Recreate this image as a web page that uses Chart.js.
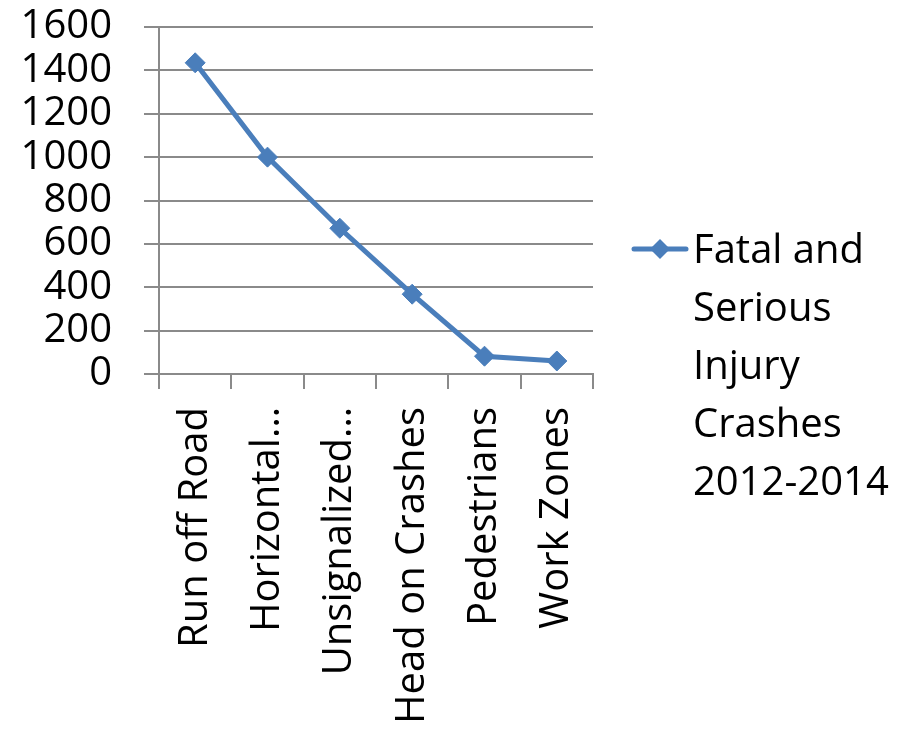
<!DOCTYPE html>
<html>
<head>
<meta charset="utf-8">
<script src="https://cdn.jsdelivr.net/npm/chart.js"></script>
<style>
    html, body { margin: 0; padding: 0; background: #fff; }
    #wrap { width: 917px; height: 730px; position: relative; }
</style>
</head>
<body>
<div id="wrap"><canvas id="crashChart"></canvas></div>
<script>
const categories = ['Run off Road', 'Horizontal…', 'Unsignalized…', 'Head on Crashes', 'Pedestrians', 'Work Zones'];
const crashes = [1435, 1000, 672, 368, 82, 60];
const seriesName = 'Fatal and Serious Injury Crashes 2012-2014';
const legendLines = ['Fatal and', 'Serious', 'Injury', 'Crashes', '2012-2014'];
const yMin = 0;
const yMax = 1600;
const yStep = 200;

const seriesColor = '#4a7ebb';
const gridColor = '#8a8a8a';
const fontFamily = '"Open Sans", sans-serif';

// legend drawn by hand so the text can wrap like the original
const sideLegend = {
    id: 'sideLegend',
    afterDraw(chart) {
        const ctx = chart.ctx;
        const area = chart.chartArea;
        const lineGap = 58;
        const blockTop = chart.height / 2 - (legendLines.length * lineGap) / 2;
        const markY = blockTop + 29;
        const markX = area.right + 67;

        ctx.save();
        ctx.strokeStyle = seriesColor;
        ctx.lineWidth = 5;
        ctx.lineCap = 'round';
        ctx.beginPath();
        ctx.moveTo(area.right + 41, markY);
        ctx.lineTo(area.right + 93, markY);
        ctx.stroke();

        ctx.fillStyle = seriesColor;
        ctx.beginPath();
        ctx.moveTo(markX, markY - 10);
        ctx.lineTo(markX + 10, markY);
        ctx.lineTo(markX, markY + 10);
        ctx.lineTo(markX - 10, markY);
        ctx.closePath();
        ctx.fill();

        ctx.fillStyle = '#000';
        ctx.font = '40px ' + fontFamily;
        ctx.textAlign = 'left';
        ctx.textBaseline = 'alphabetic';
        for (let i = 0; i < legendLines.length; i++) {
            ctx.fillText(legendLines[i], area.right + 100, blockTop + 43 + i * lineGap);
        }
        ctx.restore();
    }
};

const config = {
    type: 'line',
    data: {
        labels: categories,
        datasets: [{
            label: seriesName,
            data: crashes,
            borderColor: seriesColor,
            backgroundColor: seriesColor,
            borderWidth: 5,
            tension: 0,
            pointStyle: 'rectRot',
            pointRadius: 10,
            pointHoverRadius: 10,
            pointBorderWidth: 1,
            clip: false
        }]
    },
    options: {
        responsive: true,
        maintainAspectRatio: false,
        animation: false,
        layout: {
            padding: { top: 0, right: 324, left: 0, bottom: 0 }
        },
        scales: {
            x: {
                offset: true,
                grid: {
                    offset: true,
                    drawOnChartArea: false,
                    drawTicks: true,
                    tickLength: 15,
                    color: gridColor,
                    lineWidth: 2
                },
                border: { color: gridColor, width: 2 },
                ticks: {
                    autoSkip: false,
                    minRotation: 90,
                    maxRotation: 90,
                    padding: 18,
                    color: '#000',
                    font: { family: fontFamily, size: 40 }
                },
                afterFit(scale) {
                    scale.height = 356;
                }
            },
            y: {
                min: yMin,
                max: yMax,
                grid: {
                    color: gridColor,
                    lineWidth: 2,
                    tickLength: 15
                },
                border: { color: gridColor, width: 2 },
                ticks: {
                    stepSize: yStep,
                    autoSkip: false,
                    padding: 32,
                    color: '#000',
                    font: { family: fontFamily, size: 40, lineHeight: 1 },
                    callback: (value) => String(value)
                },
                afterFit(scale) {
                    scale.width = 159;
                    // tick padding would otherwise push the plot top down
                    scale.paddingTop = 27;
                    scale.paddingBottom = 20;
                }
            }
        },
        plugins: {
            legend: { display: false },
            tooltip: { enabled: false }
        }
    },
    plugins: [sideLegend]
};

const crashChart = new Chart(document.getElementById('crashChart').getContext('2d'), config);
</script>
</body>
</html>
